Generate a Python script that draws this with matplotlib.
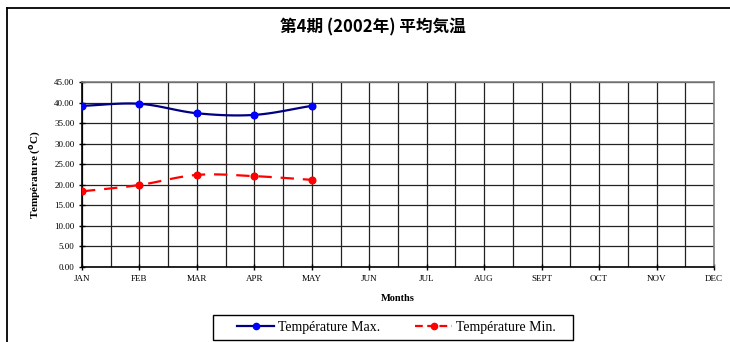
import numpy as np
import matplotlib
matplotlib.use("Agg")
import matplotlib.pyplot as plt
from matplotlib.lines import Line2D
from matplotlib.patches import Rectangle

months = ["JAN", "FEB", "MAR", "APR", "MAY", "JUN", "JUL", "AUG", "SEPT", "OCT", "NOV", "DEC"]
temp_max = [39.2, 39.7, 37.4, 37.0, 39.2]
temp_min = [18.4, 19.95, 22.4, 22.1, 21.2]
y_ticks = [0, 5, 10, 15, 20, 25, 30, 35, 40, 45]

title = "第4期 (2002年) 平均気温"
serif = ["Liberation Serif", "DejaVu Serif"]
W, H = 730, 342


def smooth(xs, ys, n=30):
    """Catmull-Rom curve through the given points (like a smoothed line chart)."""
    xs = np.asarray(xs, float)
    ys = np.asarray(ys, float)
    px = np.concatenate([[2 * xs[0] - xs[1]], xs, [2 * xs[-1] - xs[-2]]])
    py = np.concatenate([[2 * ys[0] - ys[1]], ys, [2 * ys[-1] - ys[-2]]])
    out_x, out_y = [], []
    t = np.linspace(0, 1, n)
    for i in range(1, len(px) - 2):
        for arr, out in ((px, out_x), (py, out_y)):
            p0, p1, p2, p3 = arr[i - 1], arr[i], arr[i + 1], arr[i + 2]
            seg = 0.5 * ((2 * p1) + (-p0 + p2) * t + (2 * p0 - 5 * p1 + 4 * p2 - p3) * t ** 2
                         + (-p0 + 3 * p1 - 3 * p2 + p3) * t ** 3)
            out.extend(seg if i == 1 else seg[1:])
    return np.array(out_x), np.array(out_y)


fig = plt.figure(figsize=(W / 100, H / 100), dpi=100)
ax = fig.add_axes([82 / W, 1 - 267 / H, (714 - 82) / W, (267 - 82) / H])

x = np.arange(len(temp_max))
sx, sy = smooth(x, temp_max)
ax.plot(sx, sy, color="#000080", lw=1.6, zorder=4)
ax.plot(x, temp_max, "o", color="#0000FF", ms=4.8, zorder=5)

sx, sy = smooth(x, temp_min)
ax.plot(sx, sy, color="#FF0000", lw=1.6, dashes=(6, 4), zorder=4)
ax.plot(x, temp_min, "o", color="#FF0000", ms=4.8, zorder=5)

ax.set_xlim(0, len(months) - 1)
ax.set_ylim(0, 45)
ax.set_xticks(range(len(months)))
ax.set_xticklabels(months, fontfamily=serif, fontsize=6.5)
ax.set_xticks(np.arange(0.5, len(months) - 1, 1), minor=True)
ax.set_yticks(y_ticks)
ax.set_yticklabels([f"{v:.2f}" for v in y_ticks], fontfamily=serif, fontsize=6.5)
ax.tick_params(axis="both", which="major", direction="inout", length=5, width=1, color="black", pad=3)
ax.tick_params(axis="x", which="minor", length=0)

ax.grid(True, which="both", axis="x", color="#222222", lw=0.9)
ax.grid(True, which="major", axis="y", color="#222222", lw=0.9)
ax.set_axisbelow(True)

for side in ("top", "right"):
    ax.spines[side].set_color("#808080")
    ax.spines[side].set_linewidth(1.2)
for side in ("left", "bottom"):
    ax.spines[side].set_color("black")
    ax.spines[side].set_linewidth(1.2)

ax.set_xlabel("Months", fontfamily=serif, fontsize=7.5, fontweight="bold", labelpad=8)
ax.set_ylabel("Température ($\\mathbf{^o}$C)", fontfamily=serif, fontsize=8,
              fontweight="bold", labelpad=8)

fig.text(0.511, 1 - 27 / H, title, ha="center", va="center", fontsize=12,
         fontweight="bold", family=["Noto Sans CJK JP", "DejaVu Sans"])

# outer chart frame (open on the right and bottom)
fig.add_artist(Line2D([7 / W, 7 / W], [0, 1 - 8 / H], transform=fig.transFigure,
                      color="black", lw=1.3))
fig.add_artist(Line2D([7 / W, 1], [1 - 8 / H, 1 - 8 / H], transform=fig.transFigure,
                      color="black", lw=1.3))

handles = [
    Line2D([], [], color="#000080", lw=1.6, marker="o", mfc="#0000FF", mec="#0000FF", ms=4.5),
    Line2D([], [], color="#FF0000", lw=1.6, dashes=(3.5, 2), marker="o", mfc="#FF0000",
           mec="#FF0000", ms=4.5),
]
fig.legend(handles, ["Température Max.", "Température Min."], loc="center",
           bbox_to_anchor=(396.5 / W, 1 - 327 / H), ncol=2, frameon=False,
           handlelength=2.66, handletextpad=0.3, columnspacing=2.5, borderpad=0,
           borderaxespad=0, prop={"family": serif, "size": 10})

# legend box
fig.add_artist(Rectangle((213 / W, 1 - 340 / H), (573 - 213) / W, (340 - 315) / H,
                         transform=fig.transFigure, fill=False, edgecolor="black", lw=1.0))

fig.savefig("out.png", dpi=100)
